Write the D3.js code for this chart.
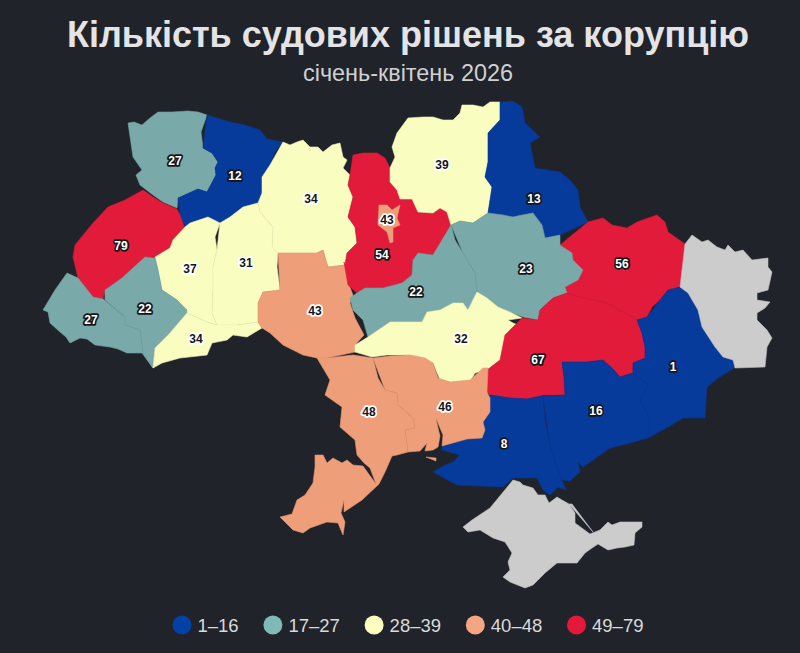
<!DOCTYPE html>
<html lang="uk">
<head>
<meta charset="UTF-8">
<title>Кількість судових рішень за корупцію</title>
<script src="https://d3js.org/d3.v7.min.js"></script>
<style>
  html, body { margin: 0; background: #202329; }
  svg { display: block; font-family: "Liberation Sans", Arial, sans-serif; }
  .region { stroke-width: .6px; stroke-linejoin: round; }
  .value { font-size: 12px; font-weight: bold; text-anchor: middle; paint-order: stroke; stroke-width: 3.5px; stroke-linejoin: round; }
</style>
</head>
<body>
<svg id="canvas" width="800" height="653"></svg>
<script>
var titleText = "Кількість судових рішень за корупцію";
var subtitleText = "січень-квітень 2026";

var regionNames = ["Волинська","Рівненська","Житомирська","Львівська","Тернопільська","Хмельницька","Івано-Франківська","Закарпатська","Чернівецька","Вінницька","Київська","Чернігівська","Сумська","Харківська","Полтавська","Черкаська","Кіровоградська","Дніпропетровська","Донецька","Запорізька","Херсонська","Миколаївська","Одеська","Київ","Луганська","Крим"];
var regionValues = [27,12,34,79,37,31,22,27,34,43,54,39,13,56,23,22,32,67,1,16,8,46,48,43,null,null];

// label spots, same picture space as the outlines
var labelSpots = [[175,161],[235,176],[311,199],[121,246],[190,269],[246,263],[145,309],[91,320],[196,339],[315,311],[382,255],[442,165],[534,199],[622,264],[526,269],[416,292],[461,339],[538,360],[673,367],[596,411],[504,444],[445,407],[369,412],[387,220]];

var legendBreaks = [17,28,40,49];
var legendLabels = ["1–16","17–27","28–39","40–48","49–79"];
var mapColors = ["#063a9b","#79a9a9","#fafdc0","#ee9e79","#e21b3a"];
var legendColors = ["#0540a6","#80bab7","#fdfdbf","#f4a582","#e5183b"];
var noDataColor = "#cccccc";

// outlines, one list of rings per region
var regionOutlines = [
  [[[128,123],[134,122],[142,125],[150,118],[158,112],[172,112],[188,111],[198,112],[207,115],[201,132],[203,148],[212,153],[218,162],[215,168],[216,175],[207,192],[198,189],[178,198],[177,208],[163,202],[153,195],[140,185],[136,175],[142,170],[133,157],[127,140]]],
  [[[207,115],[230,122],[245,125],[260,130],[267,139],[283,142],[275,152],[270,165],[262,177],[262,193],[258,203],[243,207],[230,217],[220,223],[208,217],[190,223],[185,227],[180,215],[178,198],[198,189],[207,192],[216,175],[215,168],[218,162],[212,153],[203,148],[201,132]]],
  [[[283,142],[290,145],[297,142],[303,140],[310,147],[318,147],[323,152],[332,145],[340,143],[343,157],[347,160],[343,168],[350,175],[348,185],[353,197],[348,217],[355,227],[357,243],[347,253],[345,265],[328,267],[325,257],[323,250],[317,253],[297,253],[278,253],[272,247],[273,227],[260,212],[258,203],[262,193],[262,177],[270,165],[275,152]]],
  [[[143,190],[153,197],[163,203],[177,209],[180,215],[186,232],[173,240],[170,248],[155,257],[145,257],[142,275],[122,278],[105,290],[103,299],[93,297],[78,278],[73,257],[75,245],[93,223],[108,207],[125,200],[135,198]]],
  [[[185,227],[190,223],[208,217],[220,223],[215,237],[217,250],[213,267],[213,290],[212,313],[217,325],[207,322],[187,313],[177,300],[162,290],[158,270],[155,257],[170,248],[173,240],[186,232]]],
  [[[220,223],[230,217],[243,207],[258,203],[260,212],[273,227],[272,247],[278,253],[277,267],[280,290],[263,292],[258,303],[258,322],[237,325],[217,325],[212,313],[213,290],[213,267],[217,250],[215,237]]],
  [[[145,257],[155,258],[158,270],[162,290],[177,300],[187,310],[185,327],[170,333],[155,348],[153,368],[143,353],[140,330],[125,325],[125,317],[105,300],[105,290],[122,278],[142,275]]],
  [[[67,273],[78,278],[93,297],[103,299],[125,317],[125,325],[140,330],[143,353],[153,368],[142,353],[127,353],[118,349],[110,347],[95,345],[87,339],[80,338],[70,343],[66,337],[60,332],[50,323],[48,312],[43,310],[55,290],[63,283]]],
  [[[187,313],[207,322],[217,325],[237,325],[258,322],[262,328],[247,337],[233,335],[227,340],[212,343],[207,355],[180,358],[162,363],[153,368],[155,348],[170,333],[185,327]]],
  [[[278,253],[297,253],[317,253],[323,250],[325,257],[328,267],[345,265],[349,285],[353,295],[350,303],[355,318],[364,335],[355,345],[355,352],[327,358],[317,358],[303,355],[297,352],[283,345],[270,333],[262,328],[258,322],[258,303],[263,292],[280,290],[277,267]]],
  [[[353,155],[363,153],[377,153],[385,158],[390,168],[390,182],[397,190],[400,199],[412,199],[418,212],[433,213],[440,208],[447,212],[451,225],[442,243],[433,255],[418,253],[413,260],[412,275],[402,283],[383,288],[365,288],[357,293],[348,285],[344,262],[345,265],[347,253],[357,243],[355,227],[348,217],[353,197],[348,185],[350,175],[343,168]]],
  [[[500,102],[490,102],[483,107],[473,105],[462,105],[460,113],[453,120],[443,120],[433,117],[423,117],[408,118],[397,133],[392,147],[395,157],[390,168],[390,182],[397,190],[400,199],[412,199],[418,212],[433,213],[440,208],[447,212],[451,225],[460,221],[473,223],[488,213],[492,187],[485,177],[488,162],[488,133],[500,120],[499,110]]],
  [[[500,102],[513,101],[522,107],[525,123],[540,137],[530,143],[535,168],[560,172],[570,180],[578,190],[580,207],[588,222],[560,235],[545,238],[542,225],[533,213],[522,215],[513,217],[503,215],[488,213],[492,187],[485,177],[488,162],[488,133],[500,120],[499,110]]],
  [[[588,222],[603,218],[612,225],[627,228],[637,222],[657,215],[665,222],[668,232],[685,244],[683,263],[680,287],[668,290],[660,300],[652,307],[647,317],[637,320],[607,303],[580,297],[567,293],[565,287],[578,280],[583,270],[573,260],[572,253],[560,245],[560,235]]],
  [[[451,225],[460,221],[473,223],[488,213],[503,215],[513,217],[522,215],[533,213],[542,225],[545,238],[560,235],[560,245],[572,253],[573,260],[583,270],[578,280],[565,287],[567,293],[553,298],[540,310],[538,320],[523,317],[510,312],[498,307],[487,298],[477,292],[475,273],[463,253],[455,240]]],
  [[[451,225],[455,240],[463,253],[475,273],[477,292],[480,308],[468,310],[463,303],[453,303],[440,310],[427,312],[422,322],[390,322],[368,337],[363,320],[353,310],[350,298],[357,293],[365,288],[383,288],[402,283],[412,275],[413,260],[418,253],[433,255],[442,243]]],
  [[[477,292],[487,298],[498,307],[510,312],[522,318],[508,320],[513,323],[518,325],[505,335],[507,355],[487,370],[475,373],[470,382],[450,382],[440,380],[433,363],[420,358],[403,355],[387,355],[372,357],[355,352],[355,345],[368,337],[390,322],[422,322],[427,312],[440,310],[453,303],[463,303],[468,310],[480,308]]],
  [[[505,335],[522,318],[538,320],[540,310],[553,298],[567,293],[580,297],[607,303],[637,320],[642,333],[645,347],[645,358],[633,363],[633,373],[620,377],[612,368],[603,360],[587,362],[562,362],[564,377],[565,395],[543,395],[527,399],[510,398],[490,395],[487,392],[487,370],[500,360],[507,353]]],
  [[[660,300],[668,290],[680,287],[688,293],[698,310],[702,327],[715,347],[723,357],[733,360],[734,368],[718,378],[707,387],[705,418],[683,418],[668,427],[648,438],[650,420],[640,400],[648,385],[633,373],[633,363],[645,358],[645,347],[642,333],[637,320],[647,317],[652,307]]],
  [[[543,396],[565,395],[564,377],[562,362],[587,362],[603,360],[612,368],[620,377],[633,373],[648,385],[640,400],[650,420],[648,438],[630,443],[610,448],[593,460],[583,467],[578,462],[580,472],[570,481],[562,480],[556,465],[550,445],[545,420]]],
  [[[490,395],[510,398],[527,399],[543,396],[545,420],[550,445],[556,465],[562,480],[566,490],[558,487],[550,495],[543,490],[537,478],[513,478],[503,487],[457,485],[433,472],[445,465],[453,462],[460,455],[442,450],[442,446],[467,439],[482,438],[485,430],[483,422],[490,412],[490,398]]],
  [[[373,358],[390,356],[410,355],[425,358],[433,363],[438,378],[450,382],[470,380],[483,368],[488,368],[487,392],[490,398],[490,412],[483,422],[485,430],[482,438],[467,439],[442,446],[443,435],[440,428],[436,418],[438,428],[440,436],[438,447],[433,450],[425,451],[427,443],[420,451],[408,452],[405,430],[415,428],[413,418],[398,405],[397,393],[385,390],[378,378]],
   [[426,457],[436,458],[436,461],[428,459]]],
  [[[317,358],[327,358],[353,355],[373,358],[378,378],[385,390],[397,393],[398,405],[413,418],[415,428],[405,430],[408,452],[397,455],[392,456],[385,472],[379,484],[362,500],[350,508],[344,512],[344,500],[341,513],[345,522],[343,535],[338,523],[327,522],[310,528],[303,533],[293,530],[280,517],[292,514],[297,500],[305,495],[313,483],[315,467],[315,455],[323,455],[327,463],[333,458],[342,463],[347,460],[353,465],[363,466],[368,473],[376,484],[370,468],[364,463],[357,455],[355,440],[340,427],[342,407],[325,395],[330,380],[327,368]]],
  [[[379,205],[387,205],[392,210],[400,205],[397,218],[400,225],[393,228],[393,242],[390,243],[387,232],[378,225],[376,217]]],
  [[[685,244],[692,235],[702,242],[708,240],[717,247],[725,250],[728,245],[735,252],[743,250],[752,260],[768,258],[768,267],[772,272],[768,290],[757,293],[757,300],[770,302],[765,308],[757,313],[757,320],[767,330],[772,338],[767,347],[765,367],[735,368],[733,360],[723,357],[715,347],[702,327],[698,310],[688,293],[680,287],[683,263]]],
  [[[513,480],[520,482],[523,485],[533,488],[538,495],[545,495],[549,503],[557,497],[562,500],[569,504],[575,513],[575,523],[590,534],[600,530],[608,522],[612,525],[620,522],[642,522],[642,527],[635,533],[634,545],[625,547],[617,548],[608,550],[598,544],[592,548],[585,553],[577,563],[557,563],[545,573],[533,585],[525,588],[510,582],[503,577],[510,570],[508,562],[512,553],[505,542],[493,538],[480,530],[468,532],[463,527],[472,520],[490,508],[513,497]],
   [[569,504],[572,504],[593,532],[591,534]]]
];

var color = d3.scaleThreshold().domain(legendBreaks).range(mapColors);
var legendColor = d3.scaleOrdinal().domain(legendLabels).range(legendColors);

var regions = regionNames.map(function(name, i) {
  return {
    type: "Feature",
    properties: {name: name, value: regionValues[i], spot: labelSpots[i]},
    geometry: {type: "MultiPolygon", coordinates: regionOutlines[i].map(function(r) { return [r]; })}
  };
});

var svg = d3.select("#canvas");
var projection = d3.geoIdentity();
var path = d3.geoPath(projection);

svg.append("text").attr("x", 408).attr("y", 47)
  .attr("text-anchor", "middle").attr("font-size", 36).attr("font-weight", "bold")
  .attr("fill", "#e4e4e6").text(titleText);
svg.append("text").attr("x", 408).attr("y", 81)
  .attr("text-anchor", "middle").attr("font-size", 23.4)
  .attr("fill", "#cfd0d2").text(subtitleText);

function fillOf(d) {
  return d.properties.value === null ? noDataColor : color(d.properties.value);
}

svg.append("g").selectAll("path")
  .data(regions)
  .enter().append("path")
  .attr("class", "region")
  .attr("d", path)
  .attr("fill", fillOf)
  .attr("stroke", function(d) { return d3.color(fillOf(d)).darker(0.12); });

function isLight(d) {
  return d.properties.value >= 28 && d.properties.value < 49;
}

svg.append("g").selectAll("text")
  .data(regions.filter(function(d) { return d.properties.value !== null; }))
  .enter().append("text")
  .attr("class", "value")
  .attr("x", function(d) { return projection(d.properties.spot)[0]; })
  .attr("y", function(d) { return projection(d.properties.spot)[1] + 4; })
  .attr("fill", function(d) { return isLight(d) ? "#14161a" : "#ffffff"; })
  .attr("stroke", function(d) { return isLight(d) ? "#ffffff" : "#14161a"; })
  .text(function(d) { return d.properties.value; });

// legend flows left to right, each entry pushed by the width of its text
var legendLeft = 182;
var legend = svg.append("g");
legendLabels.forEach(function(label) {
  var g = legend.append("g").attr("transform", "translate(" + legendLeft + ",625)");
  g.append("circle").attr("r", 9.5).attr("fill", legendColor(label));
  var t = g.append("text").attr("x", 15.5).attr("y", 6.5).attr("font-size", 18.5)
    .attr("fill", "#d9dadc").text(label);
  legendLeft += 15.5 + t.node().getComputedTextLength() + 34.25;
});
</script>
</body>
</html>
